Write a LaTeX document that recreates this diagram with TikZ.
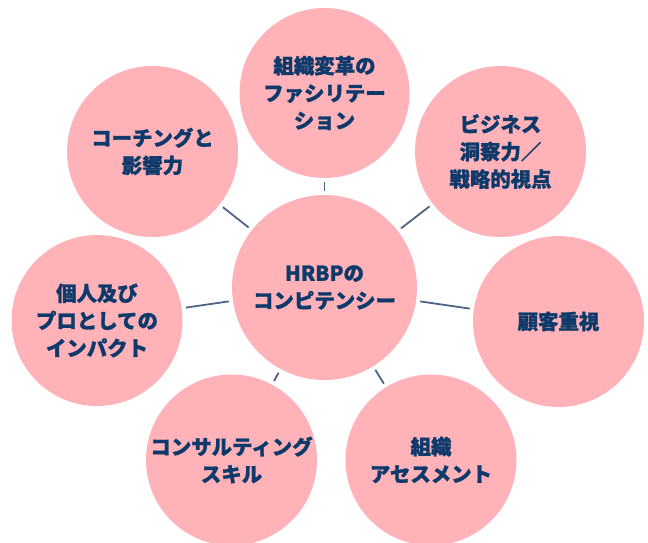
\documentclass[tikz,border=0pt]{standalone}
\usepackage{fontspec}
\newfontfamily\jp{Noto Sans CJK JP}[BoldFeatures={FakeBold=1.3}]
\definecolor{pinkfill}{HTML}{FFB3B8}
\definecolor{navytext}{HTML}{0D3A6B}
\definecolor{linkcol}{HTML}{4F6585}
\tikzset{
  bubble/.style={circle, fill=pinkfill, draw=none, inner sep=0pt, minimum size=171bp,
    align=center, text=navytext, font=\jp\bfseries\fontsize{20.5}{27.5}\selectfont},
  hub/.style={bubble, minimum size=185bp},
  link/.style={draw=linkcol, line width=1.8bp, shorten <=4bp, shorten >=4bp}
}
\begin{document}
\begin{tikzpicture}[x=1bp,y=-1bp]
\useasboundingbox (0,0) rectangle (648,543);
\node[hub] (c) at (324.5,287.5) {HRBPの\\コンピテンシー};
\node[bubble, minimum size=170bp] (t) at (324.5,93) {組織変革の\\ファシリテー\\ション};
\node[bubble] (tr) at (500.5,151.5) {ビジネス\\洞察力／\\戦略的視点};
\node[bubble] (r) at (558.5,321.5) {顧客重視};
\node[bubble] (br) at (431,460) {組織\\アセスメント};
\node[bubble] (bl) at (231.5,460) {コンサルティング\\スキル};
\node[bubble] (l) at (97,320.5) {個人及び\\プロとしての\\インパクト};
\node[bubble] (tl) at (152.5,151.5) {コーチングと\\影響力};
\foreach \o in {t,tr,r,br,bl,l,tl} \draw[link] (c) -- (\o);
\end{tikzpicture}
\end{document}
